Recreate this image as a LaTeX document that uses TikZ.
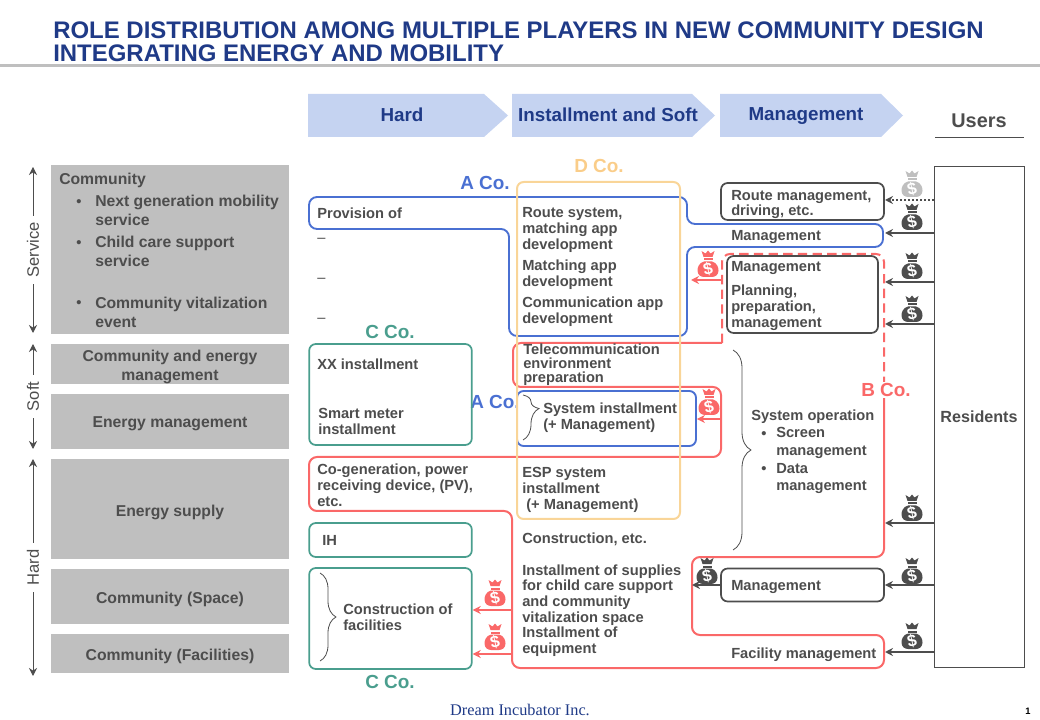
\documentclass[tikz,border=0pt]{standalone}
\usepackage{fontspec}
\setmainfont{Liberation Sans}
\newfontfamily\footfont{Liberation Serif}
\usepackage{xcolor}
\definecolor{acc}{HTML}{1F3A87}
\definecolor{mute}{HTML}{4D4D4D}
\definecolor{soft}{HTML}{BFBFBF}
\definecolor{chev}{HTML}{C5D3F1}
\definecolor{blu}{HTML}{4A70D2}
\definecolor{redl}{HTML}{FA6868}
\definecolor{tea}{HTML}{4A9E8E}
\definecolor{yel}{HTML}{F9D598}
\usetikzlibrary{arrows.meta,decorations.pathreplacing}
\tikzset{
  >={Stealth[length=6pt,width=6pt]},
  body/.style={font=\bfseries\fontsize{11}{11.8}\selectfont},
  txt/.style={body,text=mute,anchor=west,align=left,inner sep=0pt,yshift=-1.2pt},
  ltxt/.style={text=mute,anchor=west,align=left,inner sep=0pt,font=\bfseries\fontsize{11.8}{14.4}\selectfont},
  gbox/.style={fill=soft,inner sep=0pt,minimum width=178.5pt},
  gtxt/.style={text=mute,inner sep=0pt,align=center,yshift=-1.5pt,font=\bfseries\fontsize{11.8}{13.6}\selectfont},
  tbox/.style={draw=tea,line width=1.3pt,rounded corners=5pt,minimum width=122pt,inner sep=0pt},
  dbox/.style={draw=mute,line width=1.3pt,rounded corners=5pt,inner sep=0pt},
  head/.style={text=acc,font=\bfseries\fontsize{14.1}{16}\selectfont,inner sep=0pt},
  comp/.style={font=\bfseries\fontsize{14.2}{16}\selectfont,inner sep=0pt},
  side/.style={text=mute,rotate=90,fill=white,inner xsep=5pt,inner ysep=2pt,font=\fontsize{12.4}{14}\selectfont},
  blue line/.style={draw=blu,line width=1.4pt,rounded corners=6pt},
  red line/.style={draw=redl,line width=1.5pt,rounded corners=6pt},
  arr/.style={->,draw=mute,line width=1.4pt},
  rarr/.style={->,draw=redl,line width=1.4pt},
  sarr/.style={<->,draw=mute,line width=.7pt},
  brc/.style={draw=mute,line width=.6pt,decorate},
  bag/.pic={
    \fill[#1] (-6.5,-13) -- (-2.5,-10.5) -- (0,-13.5) -- (2.5,-10.5) -- (6.5,-13) -- (4.5,-7) -- (-4.5,-7) -- cycle;
    \fill[#1] (-4.5,-5.5) rectangle (4.5,-3.5);
    \fill[#1] (-4,-2.5) -- (4,-2.5) .. controls (9,-1) and (10.5,3) .. (10.5,6.5) .. controls (10.5,11) and (7,13) .. (4,13) -- (-4,13) .. controls (-7,13) and (-10.5,11) .. (-10.5,6.5) .. controls (-10.5,3) and (-9,-1) .. (-4,-2.5) -- cycle;
    \node[text=white,inner sep=0pt,rotate=12,font=\bfseries\fontsize{12.5}{13}\selectfont] (dollar) at (0,5) {\$};
  },
}
\begin{document}
\begin{tikzpicture}[x=.75pt,y=-.75pt]
\useasboundingbox (0,0) rectangle (1040,720);
% title
\node[anchor=west,text=acc,align=left,inner sep=0pt,font=\bfseries\fontsize{17.97}{17.2}\selectfont] (title) at (53,42) {ROLE DISTRIBUTION AMONG MULTIPLE PLAYERS IN NEW COMMUNITY DESIGN\\INTEGRATING ENERGY AND MOBILITY};
\fill[soft] (0,64) rectangle (1040,67);
% phase arrows
\fill[chev] (308,94) -- (484,94) -- (508,115.5) -- (484,137) -- (308,137) -- cycle;
\fill[chev] (512,94) -- (692,94) -- (715,115.5) -- (692,137) -- (512,137) -- cycle;
\fill[chev] (720,94) -- (881,94) -- (903,115.5) -- (881,137) -- (720,137) -- cycle;
\node[head] (hdhard) at (402,115) {Hard};
\node[head] (hdsoft) at (608,115) {Installment and Soft};
\node[head] (hdmgmt) at (806,116.5) {Management};
\node[text=mute,inner sep=0pt,font=\bfseries\fontsize{14.9}{17}\selectfont] (users) at (979,121) {Users};
\draw[mute,line width=.6pt] (935,137) -- (1024,137);
% left column
\node[gbox,minimum height=126.75pt] (gserv) at (170,249.5) {};
\node[gbox,minimum height=30pt] (gcomm) at (170,364) {};
\node[gbox,minimum height=41.25pt] (genergy) at (170,421.5) {};
\node[gbox,minimum height=75pt] (gsupply) at (170,509) {};
\node[gbox,minimum height=41.25pt] (gspace) at (170,596.5) {};
\node[gbox,minimum height=29.25pt] (gfac) at (170,653.5) {};
\node[gtxt] (tcommen) at (170,365) {Community and energy\\management};
\node[gtxt] (tenergy) at (170,422) {Energy management};
\node[gtxt] (tsupply) at (170,510) {Energy supply};
\node[gtxt] (tspace) at (170,597) {Community (Space)};
\node[gtxt] (tfacil) at (170,654) {Community (Facilities)};
\node[ltxt] (tcomm) at (59,180.5) {Community};
\node[txt] (b1) at (76,201) {\textbullet};
\node[txt] (b2) at (76,242) {\textbullet};
\node[txt] (b3) at (76,302) {\textbullet};
\node[ltxt] (tnext) at (95,210.5) {Next generation mobility\\service};
\node[ltxt] (tchild) at (95,251.5) {Child care support\\service};
\node[ltxt] (tvital) at (95,312) {Community vitalization\\event};
% side arrows
\coordinate (s1) at (33,167); \coordinate (s2) at (33,333);
\coordinate (s3) at (33,344); \coordinate (s4) at (33,449);
\coordinate (s5) at (33,459); \coordinate (s6) at (33,676);
\draw[sarr] (s1) -- (s2); \draw[sarr] (s3) -- (s4); \draw[sarr] (s5) -- (s6);
\node[side] (lserv) at (33,250) {Service};
\node[side] (lsoft) at (33,396.5) {Soft};
\node[side] (lhard) at (33,567.5) {Hard};
% A Co. second label goes under its box
\node[comp,text=blu] (aco2) at (495,402) {A Co.};
% teal boxes
\node[tbox,minimum height=75.75pt] (xxbox) at (390.5,394.5) {};
\node[tbox,minimum height=25.5pt] (ihbox) at (390.5,540) {};
\node[tbox,minimum height=75.75pt] (constbox) at (390.5,618.5) {};
% red outline of B Co.
\draw[red line] (884,385) -- (884,557) -- (692,557) -- (692,635) -- (884,635) -- (884,668) -- (512,668) -- (512,511) -- (309,511) -- (309,457) -- (721,457) -- (721,387) -- (513,387) -- (513,343) -- (722,343);
\draw[red line,dash pattern=on 7pt off 4pt] (722,343) -- (722,254) -- (884,254) -- (884,385);
% blue outline of A Co.
\draw[blue line] (309,197) -- (687,197) -- (687,224) -- (883,224) -- (883,247) -- (687,247) -- (687,336) -- (509,336) -- (509,229) -- (309,229) -- cycle;
\node[draw=blu,fill=white,line width=1.4pt,rounded corners=5pt,inner sep=0pt,minimum width=134.25pt,minimum height=41.25pt] (sysbox) at (606.5,418.5) {};
% yellow D Co.
\draw[yel,line width=1.5pt,rounded corners=5pt] (517,182) rectangle (680,519);
% dark boxes
\node[dbox,minimum width=122.25pt,minimum height=27.75pt] (routebox) at (802.5,201.5) {};
\node[dbox,minimum width=113.25pt,minimum height=57.75pt] (planbox) at (802.5,294.5) {};
\node[dbox,minimum width=122.25pt,minimum height=24.75pt] (mgmtbox) at (802.5,585) {};
\node[draw=mute,line width=.75pt,inner sep=0pt,minimum width=67.5pt,minimum height=375pt,text=mute,font=\bfseries\fontsize{12.1}{14}\selectfont] (res) at (979,417) {Residents};
% texts
\node[txt] (tprov) at (317,211.5) {Provision of};
\node[txt,font=\fontsize{11}{12}\selectfont] (d1) at (317,238.5) {--};
\node[txt,font=\fontsize{11}{12}\selectfont] (d2) at (317,278.5) {--};
\node[txt,font=\fontsize{11}{12}\selectfont] (d3) at (317,318.5) {--};
\node[txt] (txx) at (317,362.5) {XX installment};
\node[txt] (tsmart) at (318,419.5) {Smart meter\\installment};
\node[txt] (tcogen) at (317,483.5) {Co-generation, power\\receiving device, (PV),\\etc.};
\node[txt] (tih) at (322,538.5) {IH};
\node[txt] (tconst) at (343,615.5) {Construction of\\facilities};
\node[txt] (troute) at (522,228.5) {Route system,\\matching app\\development};
\node[txt] (tmatch) at (522,273) {Matching app\\development};
\node[txt] (tcommu) at (522,310) {Communication app\\development};
\node[txt,font=\bfseries\fontsize{11}{10.6}\selectfont] (ttele) at (523,363) {Telecommunication\\environment\\preparation};
\node[txt] (tsys) at (543,416.5) {System installment\\(+ Management)};
\node[txt] (tesp) at (522,488.5) {ESP system\\installment\\\ (+ Management)};
\node[txt] (tcon) at (522,538) {Construction, etc.};
\node[txt] (tsup) at (522,609) {Installment of supplies\\for child care support\\and community\\vitalization space\\Installment of\\equipment};
\node[txt] (trmgmt) at (731,203) {Route management,\\driving, etc.};
\node[txt] (tm1) at (731,235) {Management};
\node[txt] (tm2) at (731,266) {Management};
\node[txt] (tplan) at (731,306) {Planning,\\preparation,\\management};
\node[txt] (tsysop) at (751,415) {System operation};
\node[txt] (b4) at (761,433) {\textbullet};
\node[txt] (b5) at (761,468) {\textbullet};
\node[txt,font=\bfseries\fontsize{11}{13}\selectfont] (tscreen) at (776,441.5) {Screen\\management};
\node[txt,font=\bfseries\fontsize{11}{13}\selectfont] (tdata) at (776,477) {Data\\management};
\node[txt] (tm3) at (731,585) {Management};
\node[txt] (tfac) at (731,653) {Facility management};
% braces
\draw[brc,decoration={brace,amplitude=13.5pt,aspect=.5}] (733,350) -- (733,550);
\draw[brc,decoration={brace,amplitude=12pt,aspect=.5}] (320,573) -- (320,661);
\draw[brc,decoration={brace,amplitude=12pt,aspect=.3}] (523,395) -- (523,440);
% company names
\node[comp,text=blu] (aco) at (485,183) {A Co.};
\node[comp,text=yel!90!orange] (dco) at (599,166) {D Co.};
\node[comp,text=tea] (cco) at (390,332) {C Co.};
\node[comp,text=tea] (cco2) at (390,682) {C Co.};
\node[comp,text=redl,fill=white,inner ysep=1pt] (bco) at (886,390) {B Co.};
% payment arrows
\coordinate (e1) at (885,200); \coordinate (e2) at (885,233);
\coordinate (e3) at (885,282); \coordinate (e4) at (885,324);
\coordinate (e5) at (885,523); \coordinate (e6) at (885,652); \coordinate (e7) at (692,585);
\coordinate (r1) at (722,280); \coordinate (r2) at (691,280);
\coordinate (r3) at (721,419);
\coordinate (r4) at (512,610); \coordinate (r5) at (512,654);
\draw[->,draw=mute,line width=1.4pt,dash pattern=on 1.5pt off 1.5pt] (res.west |- e1) -- (e1);
\draw[arr] (res.west |- e2) -- (e2);
\draw[arr] (res.west |- e3) -- (e3);
\draw[arr] (res.west |- e4) -- (e4);
\draw[arr] (res.west |- e5) -- (e5);
\draw[arr] (res.west |- mgmtbox.east) -- (mgmtbox.east);
\draw[arr] (res.west |- e6) -- (e6);
\draw[arr] (mgmtbox.west) -- (e7);
\draw[rarr] (r1) -- (r2);
\draw[rarr] (r3) -- (sysbox.east |- r3);
\draw[rarr] (r4) -- (constbox.east |- r4);
\draw[rarr] (r5) -- (constbox.east |- r5);
% money bags
\pic at (912,184) {bag=soft};
\pic at (912,217) {bag=mute};
\pic at (912,266) {bag=mute};
\pic at (912,309) {bag=mute};
\pic at (912,508) {bag=mute};
\pic at (912,571) {bag=mute};
\pic at (912,636) {bag=mute};
\pic at (707,571) {bag=mute};
\pic at (708,264) {bag=redl};
\pic at (709,402) {bag=redl};
\pic at (495,593) {bag=redl};
\pic at (495,637) {bag=redl};
% footer
\node[text=acc,inner sep=0pt,font=\footfont\fontsize{12.2}{14}\selectfont] (foot) at (520,710) {Dream Incubator Inc.};
\node[text=black,inner sep=0pt,font=\bfseries\fontsize{7}{8}\selectfont] (pageno) at (1028,711) {1};
\end{tikzpicture}
\end{document}
